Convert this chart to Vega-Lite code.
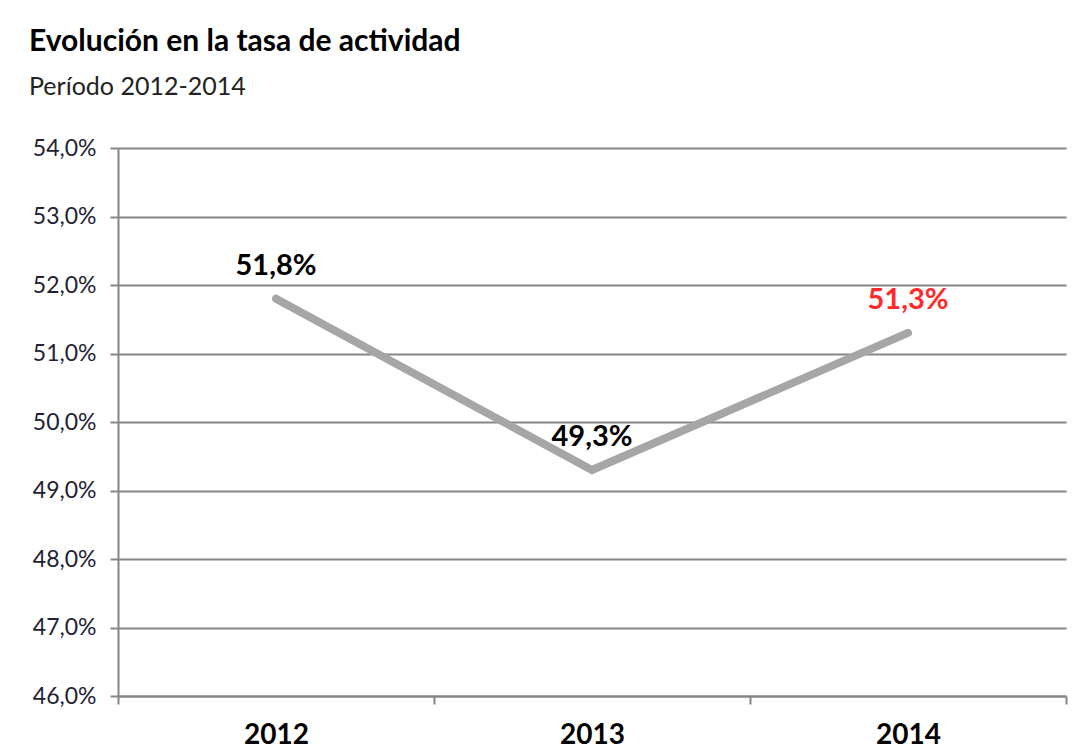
{
  "$schema": "https://vega.github.io/schema/vega-lite/v6.json",
  "autosize": {"type": "none"},
  "padding": {"left": 118, "top": 148, "right": 15, "bottom": 57},
  "width": 948,
  "height": 548,
  "background": "white",
  "title": {
    "text": "Evolución en la tasa de actividad",
    "subtitle": "Período 2012-2014",
    "anchor": "start",
    "frame": "group",
    "dx": -89,
    "offset": 37,
    "font": "Lato",
    "fontSize": 30,
    "fontWeight": "bold",
    "color": "#000000",
    "subtitleFont": "Lato",
    "subtitleFontSize": 25,
    "subtitleColor": "#222222",
    "subtitlePadding": 18
  },
  "data": {
    "values": [
      {"anio": "2012", "tasa": 0.518},
      {"anio": "2013", "tasa": 0.493},
      {"anio": "2014", "tasa": 0.513}
    ]
  },
  "encoding": {
    "x": {
      "field": "anio",
      "type": "ordinal",
      "scale": {"paddingInner": 0, "paddingOuter": 0},
      "axis": {
        "title": null,
        "labelAngle": 0,
        "labelFont": "Lato",
        "labelFontSize": 28,
        "labelFontWeight": "bold",
        "labelColor": "#000000",
        "labelPadding": 17,
        "tickBand": "extent",
        "tickSize": 8,
        "tickColor": "#868686",
        "tickWidth": 2,
        "domainColor": "#868686",
        "domainWidth": 2,
        "grid": false
      }
    },
    "y": {
      "field": "tasa",
      "type": "quantitative",
      "scale": {"domain": [0.46, 0.54], "nice": false, "zero": false},
      "axis": {
        "title": null,
        "values": [0.46, 0.47, 0.48, 0.49, 0.5, 0.51, 0.52, 0.53, 0.54],
        "labelExpr": "replace(format(datum.value, '.1%'), '.', ',')",
        "labelFont": "Lato",
        "labelFontSize": 23,
        "labelColor": "#222233",
        "labelPadding": 14,
        "tickSize": 8,
        "tickColor": "#868686",
        "tickWidth": 2,
        "domainColor": "#868686",
        "domainWidth": 2,
        "grid": true,
        "gridColor": "#868686",
        "gridWidth": 2
      }
    }
  },
  "layer": [
    {
      "mark": {"type": "line", "color": "#a6a6a6", "strokeWidth": 8, "strokeCap": "round", "strokeJoin": "miter"}
    },
    {
      "mark": {"type": "text", "dy": -33, "font": "Lato", "fontSize": 29, "fontWeight": "bold"},
      "encoding": {
        "text": {"field": "tasa", "type": "quantitative", "format": ".1%"},
        "color": {
          "field": "anio",
          "type": "nominal",
          "scale": {"domain": ["2012", "2013", "2014"], "range": ["#000000", "#000000", "#ff2a2a"]},
          "legend": null
        }
      }
    }
  ],
  "config": {
    "locale": {
      "number": {"decimal": ",", "thousands": ".", "grouping": [3], "currency": ["", " €"]}
    },
    "view": {"stroke": null}
  }
}
